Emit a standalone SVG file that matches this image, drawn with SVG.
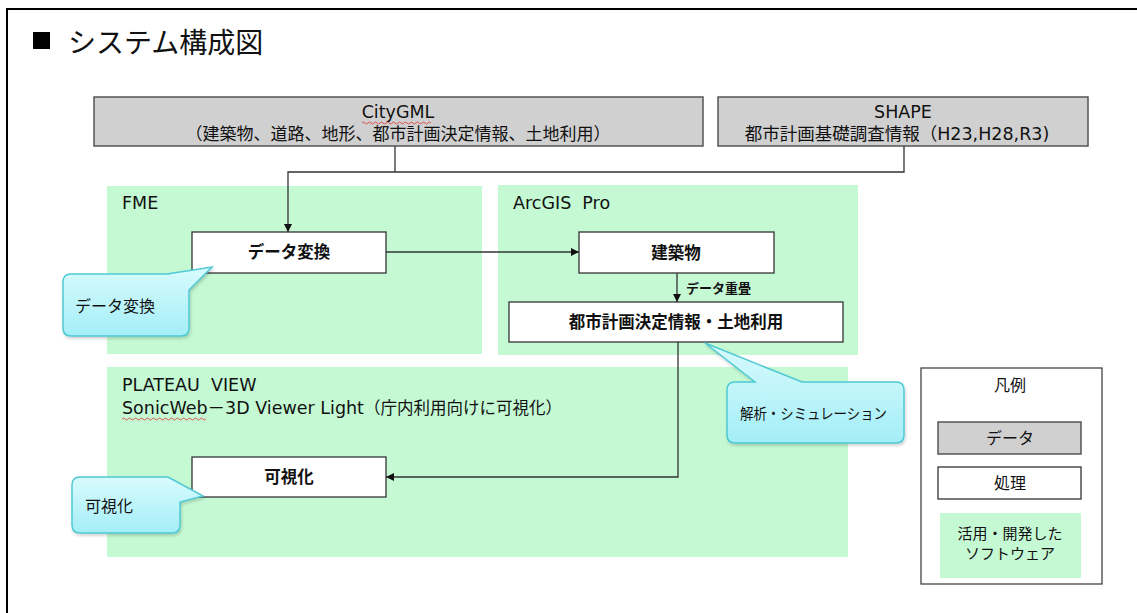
<svg xmlns="http://www.w3.org/2000/svg" width="1137" height="613" viewBox="0 0 1137 613">
  <style>
    text { font-family: "Noto Sans CJK JP", "Noto Sans", sans-serif; fill: #111; }
    .lat { font-family: "DejaVu Sans", "Noto Sans CJK JP", sans-serif; }
    .data { fill: #d0d0d0; stroke: #555; stroke-width: 1.5; }
    .proc { fill: #fff; stroke: #333; stroke-width: 1.3; }
    .soft { fill: #c5f9d4; }
    .call { fill: url(#cyan); stroke: #4fc9d3; stroke-width: 1.5; filter: url(#sh); }
    .conn { fill: none; stroke: #333; stroke-width: 1.3; }
    .t16 { font-size: 17px; }
    .tl { font-size: 17.5px; }
    .tb { font-size: 16.5px; font-weight: bold; }
    .lbl { font-size: 16px; }
    .mid { text-anchor: middle; }
    .sq { fill: none; stroke: #e03030; stroke-width: 0.8; }
  </style>
  <defs>
    <linearGradient id="cyan" x1="0" y1="0" x2="0" y2="1">
      <stop offset="0" stop-color="#d8fbfd"/>
      <stop offset="1" stop-color="#a4eef7"/>
    </linearGradient>
    <filter id="sh" x="-10%" y="-10%" width="130%" height="140%">
      <feDropShadow dx="1" dy="2" stdDeviation="1.5" flood-color="#000" flood-opacity="0.18"/>
    </filter>
    <marker id="arr" viewBox="0 0 10 10" refX="10" refY="5" markerWidth="8" markerHeight="8" orient="auto" markerUnits="userSpaceOnUse">
      <path d="M0,0 L10,5 L0,10 Z" fill="#111"/>
    </marker>
  </defs>

  <rect x="7" y="9" width="1140" height="620" fill="#fff" stroke="#000" stroke-width="2"/>

  <g id="title">
    <rect x="33" y="32" width="17" height="17" fill="#000"/>
    <text x="68" y="53" style="font-size:28px">システム構成図</text>
  </g>

  <!-- software areas -->
  <g id="area-fme">
    <rect class="soft" x="107" y="186" width="375" height="168"/>
    <text class="tl lat" x="122" y="209">FME</text>
  </g>
  <g id="area-arcgis">
    <rect class="soft" x="498" y="185" width="360" height="170"/>
    <text class="tl lat" x="513" y="209" xml:space="preserve">ArcGIS  Pro</text>
  </g>
  <g id="area-plateau">
    <rect class="soft" x="107" y="367" width="741" height="190"/>
    <text class="tl lat" x="122" y="391" xml:space="preserve">PLATEAU  VIEW</text>
    <text class="tl lat" x="122" y="414">SonicWeb－3D Viewer Light<tspan style="font-size:16.5px">（庁内利用向けに可視化）</tspan></text>
    <path class="sq" d="M122,419 q1.5,-2 3,0 t3,0 t3,0 t3,0 t3,0 t3,0 t3,0 t3,0 t3,0 t3,0 t3,0 t3,0 t3,0 t3,0 t3,0 t3,0 t3,0 t3,0 t3,0 t3,0 t3,0 t3,0 t3,0 t3,0 t3,0 t3,0 t3,0 t3,0"/>
  </g>

  <!-- data nodes -->
  <g id="citygml">
    <rect class="data" x="94" y="97" width="609" height="49"/>
    <text class="tl mid lat" x="398" y="118">CityGML</text>
    <path class="sq" d="M362,123 q1.5,-2 3,0 t3,0 t3,0 t3,0 t3,0 t3,0 t3,0 t3,0 t3,0 t3,0 t3,0 t3,0 t3,0 t3,0 t3,0 t3,0 t3,0 t3,0 t3,0 t3,0 t3,0 t3,0 t3,0"/>
    <text class="t16 mid" x="398" y="140">（建築物、道路、地形、都市計画決定情報、土地利用）</text>
  </g>
  <g id="shape">
    <rect class="data" x="718" y="97" width="370" height="49"/>
    <text class="tl mid lat" x="903" y="118">SHAPE</text>
    <text class="tl mid lat" x="897" y="140">都市計画基礎調査情報（H23,H28,R3)</text>
  </g>

  <!-- connectors -->
  <g id="connectors">
    <path class="conn" d="M395,146 V172"/>
    <path class="conn" d="M904,146 V172 H288 V232" marker-end="url(#arr)"/>
    <path class="conn" d="M386,252 H579" marker-end="url(#arr)"/>
    <path class="conn" d="M677,273 V302" marker-end="url(#arr)"/>
    <text x="686" y="293" style="font-size:13px;font-weight:bold">データ重畳</text>
    <path class="conn" d="M678,342 V477 H386" marker-end="url(#arr)"/>
  </g>

  <!-- process nodes -->
  <g id="conv">
    <rect class="proc" x="192" y="232" width="194" height="41"/>
    <text class="tb mid" x="289" y="258">データ変換</text>
  </g>
  <g id="building">
    <rect class="proc" x="579" y="232" width="195" height="41"/>
    <text class="tb mid" x="676" y="259">建築物</text>
  </g>
  <g id="urbanplan">
    <rect class="proc" x="509" y="302" width="334" height="40"/>
    <text class="tb mid" x="676" y="328">都市計画決定情報・土地利用</text>
  </g>
  <g id="visual">
    <rect class="proc" x="192" y="457" width="194" height="40"/>
    <text class="tb mid" x="289" y="483">可視化</text>
  </g>

  <!-- callouts -->
  <g id="callout-conv">
    <path class="call" d="M71,274 H167 L212,267 L189,290 V328 Q189,336 181,336 H71 Q63,336 63,328 V282 Q63,274 71,274 Z"/>
    <text class="lbl" x="75" y="312">データ変換</text>
  </g>
  <g id="callout-visual">
    <path class="call" d="M80,477 H168 L203,496 L180,502 V525 Q180,533 172,533 H80 Q72,533 72,525 V485 Q72,477 80,477 Z"/>
    <text class="lbl" x="85" y="512">可視化</text>
  </g>
  <g id="callout-analysis">
    <path class="call" d="M735,382 H755 L705,343 L802,382 H896 Q904,382 904,390 V435 Q904,443 896,443 H735 Q727,443 727,435 V390 Q727,382 735,382 Z"/>
    <text x="740" y="419" style="font-size:15px" textLength="147" lengthAdjust="spacingAndGlyphs">解析・シミュレーション</text>
  </g>

  <!-- legend -->
  <g id="legend">
    <rect x="921" y="368" width="181" height="216" fill="#fff" stroke="#444" stroke-width="1.3"/>
    <text class="lbl mid" x="1010" y="391">凡例</text>
    <rect class="data" x="938" y="422" width="143" height="32"/>
    <text class="lbl mid" x="1010" y="444">データ</text>
    <rect class="proc" x="938" y="467" width="143" height="32"/>
    <text class="lbl mid" x="1010" y="489">処理</text>
    <rect class="soft" x="940" y="513" width="141" height="65"/>
    <text class="mid" x="1010" y="539" style="font-size:15px">活用・開発した</text>
    <text class="mid" x="1010" y="559" style="font-size:15px">ソフトウェア</text>
  </g>
</svg>
